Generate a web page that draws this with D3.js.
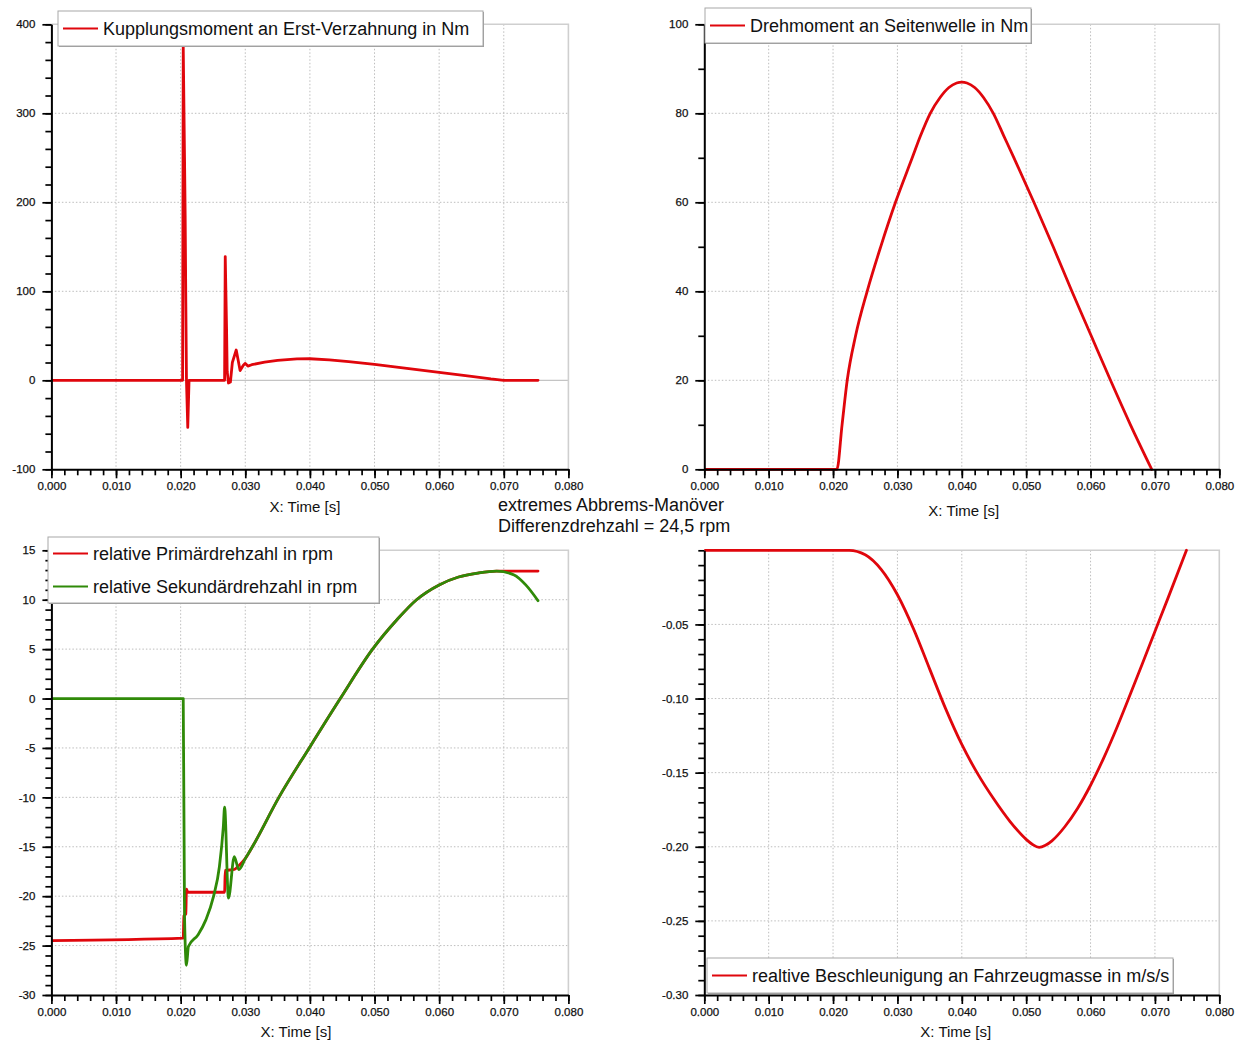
<!DOCTYPE html>
<html>
<head>
<meta charset="utf-8">
<script src="https://cdn.jsdelivr.net/npm/d3@7"></script>
<style>
  body { margin: 0; background: #fff; }
  svg { display: block; }
  text { font-family: "Liberation Sans", Arial, sans-serif; }
</style>
</head>
<body>
<svg id="chart" width="1243" height="1041"></svg>
<script>
// ---- shared x axis (time in seconds) ----
const xMajorTicks = [0, 0.01, 0.02, 0.03, 0.04, 0.05, 0.06, 0.07, 0.08];

// ---- Kupplungsmoment an Erst-Verzahnung [Nm] ----
const couplingTime = [0, 0.0203, 0.0204, 0.0206, 0.0207, 0.0208, 0.0209, 0.0211, 0.0213,
  0.0268, 0.0269, 0.0271, 0.0272, 0.0274, 0.0277, 0.0280, 0.0286, 0.0292, 0.0297, 0.0300,
  0.0304, 0.0310, 0.0330, 0.0350, 0.0380, 0.0400, 0.0430, 0.0460, 0.0500, 0.0550, 0.0600,
  0.0650, 0.0680, 0.0700, 0.0753];
const couplingTorque = [0, 0, 375, 250, 184, 87, 0, -53, 0,
  0, 139, 60, 10, -3, -2, 20, 34, 11, 17, 19,
  16, 17.5, 20.5, 22.5, 24, 24.2, 23, 21, 18, 13.5, 9,
  4.5, 1.5, 0, 0];
const couplingTicks = [-100, 0, 100, 200, 300, 400];

// ---- Drehmoment an Seitenwelle [Nm] ----
const shaftTime = [0, 0.0206, 0.0214, 0.0222, 0.0235, 0.0253, 0.0274, 0.0297, 0.0323, 0.0336,
  0.0351, 0.0366, 0.0380, 0.0392, 0.0400, 0.0408, 0.0420, 0.0434, 0.0449, 0.0465, 0.0481,
  0.0512, 0.0542, 0.0571, 0.0601, 0.0631, 0.0662, 0.0695];
const shaftTorque = [0, 0, 10, 20, 30, 40, 50, 60, 70, 75,
  80, 83.5, 85.8, 86.8, 87, 86.8, 85.8, 83.5, 80, 75, 70,
  60, 50, 40, 30, 20, 10, 0];
const shaftTicks = [0, 20, 40, 60, 80, 100];

// ---- relative Primär- / Sekundärdrehzahl [rpm] ----
const primaryTime = [0, 0.0204, 0.0205, 0.0208, 0.0209, 0.0211, 0.0268, 0.0269, 0.0283, 0.0290,
  0.0300, 0.0311, 0.0352, 0.0399, 0.0447, 0.0497, 0.0535, 0.0565, 0.0600, 0.0630, 0.0660,
  0.0689, 0.0753];
const primaryRpm = [-24.5, -24.25, -22.0, -21.8, -19.3, -19.6, -19.6, -17.4, -17.3, -16.9,
  -16.2, -15, -10, -5, 0, 5, 8, 10, 11.5, 12.3, 12.7,
  12.9, 12.9];
const secondaryTime = [0, 0.0204, 0.0206, 0.0209, 0.0212, 0.0227, 0.0239, 0.0251, 0.0260, 0.0266,
  0.0268, 0.0274, 0.0283, 0.0290, 0.0300, 0.0311, 0.0352, 0.0399, 0.0447, 0.0497, 0.0535,
  0.0565, 0.0600, 0.0630, 0.0660, 0.0689, 0.0716, 0.0734, 0.0753];
const secondaryRpm = [0, 0, -22, -27, -25.1, -23.9, -22.4, -20.0, -17.0, -13.0,
  -11.0, -20.2, -16.0, -17.3, -16.2, -15, -10, -5, 0, 5, 8,
  10, 11.5, 12.3, 12.7, 12.9, 12.5, 11.5, 9.9];
const rpmTicks = [-30, -25, -20, -15, -10, -5, 0, 5, 10, 15];

// ---- realtive Beschleunigung an Fahrzeugmasse [m/s/s] ----
const accelTime = [0, 0.0225, 0.0250, 0.0275, 0.0300, 0.0325, 0.0350, 0.0375, 0.0400, 0.0425,
  0.0450, 0.0475, 0.0500, 0.0510, 0.0520, 0.0530, 0.0540, 0.0560, 0.0580, 0.0600, 0.0620,
  0.0640, 0.0660, 0.0680, 0.0700, 0.0720, 0.0749];
const accelValue = [0, 0, -0.0030, -0.0130, -0.0300, -0.0530, -0.0800, -0.1070, -0.1310, -0.1510,
  -0.1680, -0.1830, -0.1950, -0.1985, -0.2004, -0.1990, -0.1960, -0.1865, -0.1740, -0.1585, -0.1405,
  -0.1205, -0.0990, -0.0770, -0.0548, -0.0326, 0];
const accelTicks = [-0.30, -0.25, -0.20, -0.15, -0.10, -0.05];

// ---- texts ----
const xAxisTitle = "X: Time [s]";
const captionLines = ["extremes Abbrems-Manöver", "Differenzdrehzahl = 24,5 rpm"];

const RED = "#e0060c";
const GREEN = "#2f8a08";
const FONT = '"Liberation Sans", Arial, sans-serif';

const zip = (t, v) => t.map((d, i) => ({ t: d, v: v[i] }));
const steps = (lo, hi, step) => d3.range(0, Math.round((hi - lo) / step) + 1).map(i => +(lo + i * step).toFixed(6));

const panels = [
  {
    box: { x0: 51.4, x1: 568.4, y0: 24.3, y1: 469.3 },
    yDomain: [-100, 400], yTicks: couplingTicks, yMinor: steps(-100, 400, 20), yFmt: d => String(d),
    zeroLine: true, curve: d3.curveLinear,
    series: [{ name: "Kupplungsmoment an Erst-Verzahnung in Nm", color: RED, data: zip(couplingTime, couplingTorque) }],
    legend: { x: 58, y: 11, w: 425, h: 35 },
    title: { dx: -5, y: 512 }
  },
  {
    box: { x0: 704.3, x1: 1219.3, y0: 24.3, y1: 469.3 },
    yDomain: [0, 100], yTicks: shaftTicks, yMinor: steps(0, 100, 10), yFmt: d => String(d),
    zeroLine: false, curve: d3.curveMonotoneX,
    series: [{ name: "Drehmoment an Seitenwelle in Nm", color: RED, data: zip(shaftTime, shaftTorque) }],
    legend: { x: 705, y: 8, w: 326, h: 35 },
    title: { dx: 2, y: 516 }
  },
  {
    box: { x0: 51.4, x1: 568.4, y0: 550.3, y1: 995 },
    yDomain: [-30, 15], yTicks: rpmTicks, yMinor: steps(-30, 15, 1), yFmt: d => String(d),
    zeroLine: true, curve: d3.curveMonotoneX,
    series: [
      { name: "relative Primärdrehzahl in rpm", color: RED, data: zip(primaryTime, primaryRpm) },
      { name: "relative Sekundärdrehzahl in rpm", color: GREEN, data: zip(secondaryTime, secondaryRpm) }
    ],
    legend: { x: 48, y: 537, w: 331, h: 66 },
    title: { dx: -14, y: 1037 }
  },
  {
    box: { x0: 704.3, x1: 1219.3, y0: 550.3, y1: 995 },
    yDomain: [-0.30, 0], yTicks: accelTicks, yMinor: steps(-0.30, 0, 0.01), yFmt: d => d.toFixed(2),
    zeroLine: false, curve: d3.curveMonotoneX,
    series: [{ name: "realtive Beschleunigung an Fahrzeugmasse in m/s/s", color: RED, data: zip(accelTime, accelValue) }],
    legend: { x: 707, y: 958, w: 466, h: 35 },
    title: { dx: -6, y: 1037 }
  }
];

const svg = d3.select("#chart");
svg.append("rect").attr("width", 1243).attr("height", 1041).attr("fill", "#fff");

panels.forEach((p, pi) => {
  const b = p.box;
  const x = d3.scaleLinear().domain([0, 0.08]).range([b.x0, b.x1]);
  const y = d3.scaleLinear().domain(p.yDomain).range([b.y1, b.y0]);
  const g = svg.append("g");

  // dotted grid
  const grid = g.append("g").attr("stroke", "#bdbdbd").attr("stroke-width", 1).attr("stroke-dasharray", "1.5,2");
  xMajorTicks.filter(v => v > 0 && v < 0.08).forEach(v => {
    grid.append("line").attr("x1", x(v)).attr("x2", x(v)).attr("y1", b.y0).attr("y2", b.y1);
  });
  p.yTicks.filter(v => y(v) < b.y1 - 1 && y(v) > b.y0 + 1 && v !== 0).forEach(v => {
    grid.append("line").attr("x1", b.x0).attr("x2", b.x1).attr("y1", y(v)).attr("y2", y(v));
  });
  if (p.zeroLine) {
    g.append("line").attr("x1", b.x0).attr("x2", b.x1).attr("y1", y(0)).attr("y2", y(0))
      .attr("stroke", "#c4c4c4").attr("stroke-width", 1.3);
  }
  // light frame on top and right
  g.append("path")
    .attr("d", `M${b.x0},${b.y0}H${b.x1}V${b.y1}`)
    .attr("fill", "none").attr("stroke", "#cfcfcf").attr("stroke-width", 1.6);

  // curves
  const clipId = "clip" + pi;
  g.append("clipPath").attr("id", clipId).append("rect")
    .attr("x", b.x0).attr("y", b.y0 - 2).attr("width", b.x1 - b.x0).attr("height", b.y1 - b.y0 + 4);
  const line = d3.line().x(d => x(d.t)).y(d => y(d.v)).curve(p.curve);
  p.series.forEach(s => {
    g.append("path").datum(s.data)
      .attr("clip-path", `url(#${clipId})`)
      .attr("d", line)
      .attr("fill", "none").attr("stroke", s.color).attr("stroke-width", 2.8)
      .attr("stroke-linejoin", "round").attr("stroke-linecap", "round");
  });

  // axes: minor ticks first, then labelled major ticks with the axis line
  const styleAxis = sel => {
    sel.attr("font-family", FONT).attr("font-size", 11.5);
    sel.select(".domain").attr("stroke", "#000").attr("stroke-width", 2);
    sel.selectAll(".tick line").attr("stroke", "#000").attr("stroke-width", 1.7);
    sel.selectAll(".tick text").attr("fill", "#111").attr("stroke", "#111").attr("stroke-width", 0.25);
  };
  const xMinor = steps(0, 0.08, 0.002);
  g.append("g").attr("transform", `translate(0,${b.y1})`)
    .call(d3.axisBottom(x).tickValues(xMinor).tickSize(6).tickSizeOuter(0).tickFormat(() => ""))
    .call(sel => { sel.select(".domain").remove(); sel.selectAll(".tick line").attr("stroke", "#000").attr("stroke-width", 1.7); });
  g.append("g").attr("transform", `translate(${b.x0},0)`)
    .call(d3.axisLeft(y).tickValues(p.yMinor).tickSize(6).tickSizeOuter(0).tickFormat(() => ""))
    .call(sel => { sel.select(".domain").remove(); sel.selectAll(".tick line").attr("stroke", "#000").attr("stroke-width", 1.7); });
  g.append("g").attr("transform", `translate(0,${b.y1})`)
    .call(d3.axisBottom(x).tickValues(xMajorTicks).tickSize(9).tickPadding(4).tickSizeOuter(0).tickFormat(d => d.toFixed(3)))
    .call(styleAxis);
  g.append("g").attr("transform", `translate(${b.x0},0)`)
    .call(d3.axisLeft(y).tickValues(p.yTicks).tickSize(9).tickPadding(7).tickSizeOuter(0).tickFormat(p.yFmt))
    .call(styleAxis);

  // axis title
  g.append("text")
    .attr("x", (b.x0 + b.x1) / 2 + p.title.dx).attr("y", p.title.y)
    .attr("text-anchor", "middle").attr("font-size", 15).attr("fill", "#111")
    .text(xAxisTitle);

  // legend
  const L = p.legend;
  const lg = g.append("g");
  lg.append("rect").attr("x", L.x + 1).attr("y", L.y + 1).attr("width", L.w).attr("height", L.h)
    .attr("fill", "#9a9a9a");
  lg.append("rect").attr("x", L.x).attr("y", L.y).attr("width", L.w).attr("height", L.h)
    .attr("fill", "#fff").attr("stroke", "#a8a8a8").attr("stroke-width", 1);
  const rowH = L.h / p.series.length;
  p.series.forEach((s, i) => {
    const cy = L.y + rowH * (i + 0.5);
    lg.append("line").attr("x1", L.x + 5).attr("x2", L.x + 40).attr("y1", cy).attr("y2", cy)
      .attr("stroke", s.color).attr("stroke-width", 2.2);
    lg.append("text").attr("x", L.x + 45).attr("y", cy).attr("dy", "0.36em")
      .attr("font-size", 18).attr("fill", "#111").text(s.name);
  });
});

// centred caption between the panels
svg.append("text").attr("x", 498).attr("y", 511).attr("font-size", 18).attr("fill", "#111")
  .selectAll("tspan").data(captionLines).join("tspan")
  .attr("x", 498).attr("dy", (d, i) => i === 0 ? 0 : 21).text(d => d);
</script>
</body>
</html>
